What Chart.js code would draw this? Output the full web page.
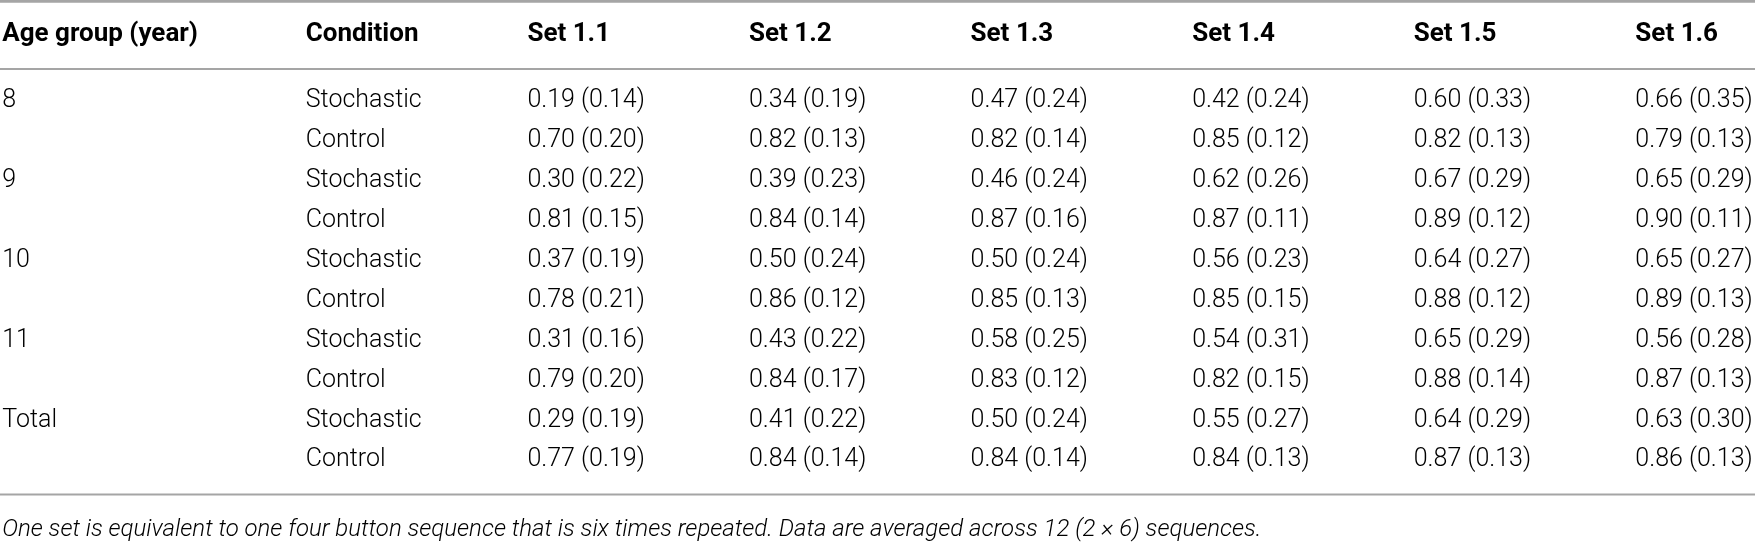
<!DOCTYPE html>
<html>
<head>
<meta charset="utf-8">
<script src="https://cdn.jsdelivr.net/npm/chart.js@4.4.1/dist/chart.umd.min.js"></script>
<style>
  html, body { margin: 0; padding: 0; background: #fff; }
  #wrap { width: 1755px; height: 542px; }
</style>
</head>
<body>
<div id="wrap"><canvas id="table-chart" width="1755" height="542"></canvas></div>
<script>
const headers = ['Age group (year)', 'Condition', 'Set 1.1', 'Set 1.2', 'Set 1.3', 'Set 1.4', 'Set 1.5', 'Set 1.6'];
const ageGroups = ['8', '9', '10', '11', 'Total'];
const conditions = ['Stochastic', 'Control'];

// rows = age groups, columns = Set 1.1 ... Set 1.6
const stochMeans = [
  [0.19, 0.34, 0.47, 0.42, 0.60, 0.66],
  [0.30, 0.39, 0.46, 0.62, 0.67, 0.65],
  [0.37, 0.50, 0.50, 0.56, 0.64, 0.65],
  [0.31, 0.43, 0.58, 0.54, 0.65, 0.56],
  [0.29, 0.41, 0.50, 0.55, 0.64, 0.63]
];
const stochSDs = [
  [0.14, 0.19, 0.24, 0.24, 0.33, 0.35],
  [0.22, 0.23, 0.24, 0.26, 0.29, 0.29],
  [0.19, 0.24, 0.24, 0.23, 0.27, 0.27],
  [0.16, 0.22, 0.25, 0.31, 0.29, 0.28],
  [0.19, 0.22, 0.24, 0.27, 0.29, 0.30]
];
const ctrlMeans = [
  [0.70, 0.82, 0.82, 0.85, 0.82, 0.79],
  [0.81, 0.84, 0.87, 0.87, 0.89, 0.90],
  [0.78, 0.86, 0.85, 0.85, 0.88, 0.89],
  [0.79, 0.84, 0.83, 0.82, 0.88, 0.87],
  [0.77, 0.84, 0.84, 0.84, 0.87, 0.86]
];
const ctrlSDs = [
  [0.20, 0.13, 0.14, 0.12, 0.13, 0.13],
  [0.15, 0.14, 0.16, 0.11, 0.12, 0.11],
  [0.21, 0.12, 0.13, 0.15, 0.12, 0.13],
  [0.20, 0.17, 0.12, 0.15, 0.14, 0.13],
  [0.19, 0.14, 0.14, 0.13, 0.13, 0.13]
];

const note = 'One set is equivalent to one four button sequence that is six times repeated. Data are averaged across 12 (2 \u00d7 6) sequences.';

// layout (column widths in scale units, first column is wider)
const colWidths = [1.37, 1, 1, 1, 1, 1, 1, 1];
const colX = [];
colWidths.forEach((w, i) => colX.push(i === 0 ? 0 : colX[i - 1] + colWidths[i - 1]));

const headerRow = -1.66;
const rules = [[-2.5, 3], [-0.8, 2], [9.86, 2]]; // [row, width]
const noteRow = 10.74;

const bodyFont = '300 25px Roboto';
const headFont = 'bold 26px Roboto';
const noteFont = 'italic 300 24px Roboto';

const fmt = (m, s) => m.toFixed(2) + ' (' + s.toFixed(2) + ')';

// build the point datasets (one per column)
const ageCol = ageGroups.map((a, i) => ({ x: colX[0], y: i * 2, label: a }));
const condCol = [];
ageGroups.forEach((a, i) => {
  conditions.forEach((c, j) => condCol.push({ x: colX[1], y: i * 2 + j, label: c }));
});

const setCols = headers.slice(2).map((h, k) => {
  const pts = [];
  ageGroups.forEach((a, i) => {
    pts.push({ x: colX[k + 2], y: i * 2, label: fmt(stochMeans[i][k], stochSDs[i][k]) });
    pts.push({ x: colX[k + 2], y: i * 2 + 1, label: fmt(ctrlMeans[i][k], ctrlSDs[i][k]) });
  });
  return pts;
});

const datasets = [ageCol, condCol].concat(setCols).map((d, i) => ({
  label: headers[i],
  data: d,
  pointRadius: 0,
  pointHoverRadius: 0,
  showLine: false,
  clip: false
}));

const tablePlugin = {
  id: 'tableText',
  afterDatasetsDraw(chart) {
    const { ctx, scales: { x, y } } = chart;
    ctx.save();

    // rules
    ctx.strokeStyle = '#a5a5a5';
    rules.forEach(([r, w]) => {
      const py = y.getPixelForValue(r);
      ctx.lineWidth = w;
      ctx.beginPath();
      ctx.moveTo(0, py);
      ctx.lineTo(chart.width, py);
      ctx.stroke();
    });

    ctx.fillStyle = '#000';
    ctx.textAlign = 'left';
    ctx.textBaseline = 'middle';

    // header row
    ctx.font = headFont;
    headers.forEach((h, i) => {
      ctx.fillText(h, x.getPixelForValue(colX[i]), y.getPixelForValue(headerRow));
    });

    // cells
    ctx.font = bodyFont;
    chart.data.datasets.forEach((ds, di) => {
      const meta = chart.getDatasetMeta(di);
      meta.data.forEach((pt, i) => {
        ctx.fillText(ds.data[i].label, pt.x, pt.y);
      });
    });

    // footnote
    ctx.font = noteFont;
    ctx.fillText(note, x.getPixelForValue(colX[0]), y.getPixelForValue(noteRow));
    ctx.restore();
  }
};

const chart = new Chart(document.getElementById('table-chart'), {
  type: 'scatter',
  data: { datasets },
  options: {
    responsive: false,
    animation: false,
    devicePixelRatio: 1,
    layout: { padding: 0 },
    plugins: { legend: { display: false }, tooltip: { enabled: false } },
    scales: {
      x: { type: 'linear', min: -0.01, max: 7.91, display: false },
      y: { type: 'linear', min: -2.53, max: 11.05, reverse: true, display: false }
    }
  },
  plugins: [tablePlugin]
});
</script>
</body>
</html>
